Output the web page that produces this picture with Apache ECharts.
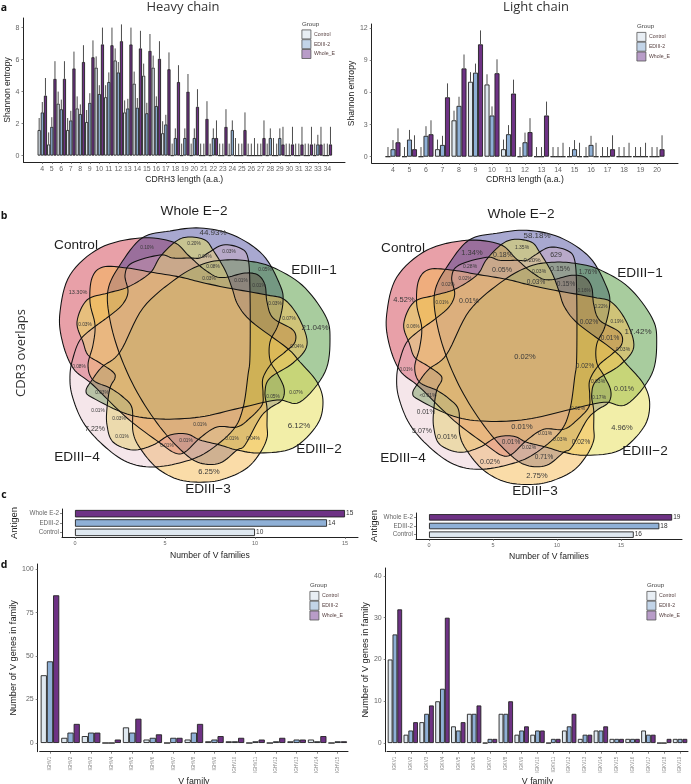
<!DOCTYPE html>
<html>
<head>
<meta charset="utf-8">
<title>CDR3 repertoire</title>
<script src="https://cdn.jsdelivr.net/npm/echarts@6/dist/echarts.min.js"></script>
<style>
html,body{margin:0;padding:0;background:#fff}
#chart{width:691px;height:784px}
</style>
</head>
<body>
<div id="chart"></div>
<script>
// ---- data ----
var groups = ['Control', 'EDIII-2', 'Whole_E'];

var heavyLengths = [4,5,6,7,8,9,10,11,12,13,14,15,16,17,18,19,20,21,22,23,24,25,26,27,28,29,30,31,32,33,34];
var heavyControl = [1.6,0.7,3.25,1.6,2.95,2.1,5.5,3.65,5.95,2.7,4.5,5.0,5.5,1.4,0,0,0,0,0,0,0,0,0,0,0,0,0,0,0,0,0];
var heavyEdiii = [2.7,1.8,2.9,2.2,2.6,3.3,3.85,4.6,5.2,2.95,3.0,2.65,3.1,1.95,1.1,1.1,1.1,0,1.1,0,1.6,0,0,0,1.1,1.1,0,0,0,0.7,0];
var heavyWhole = [3.75,4.8,4.8,5.45,5.85,6.15,6.95,6.9,7.15,6.95,6.7,6.55,6.05,5.4,4.6,4.0,3.05,2.3,1.1,1.8,0,1.6,0,1.1,0,0.7,0.7,0.7,0.7,0.7,0.7];
var heavyControlTop = [2.35,1.45,4.0,2.35,3.7,2.85,6.2,4.4,6.7,3.45,5.25,5.75,6.25,2.15,0.75,0.75,0.75,0.75,0.75,0.75,0.75,0.75,0.75,0.75,0.75,0.75,0.75,0.75,0.75,0.75,0.75];
var heavyEdiiiTop = [3.35,2.4,3.5,2.8,3.2,3.9,4.4,5.2,5.85,3.55,3.6,3.3,3.7,2.55,1.7,1.7,1.7,0.75,1.7,0.75,2.2,0.75,0.75,0.75,1.7,1.7,0.75,0.75,0.75,1.3,0.75];
var heavyWholeTop = [4.85,5.9,5.9,6.5,6.9,7.2,8.0,8.0,8.2,8.0,7.8,7.6,7.15,6.45,5.65,5.1,4.15,3.4,2.2,2.9,1.1,2.7,1.1,2.2,1.1,1.8,1.8,1.8,1.8,1.8,1.8];

var lightLengths = [4,5,6,7,8,9,10,11,12,13,14,15,16,17,18,19,20];
var lightControl = [0,0,0,0.7,3.4,7.0,6.75,0.7,0,0,0,0,0,0,0,0,0];
var lightEdiii = [0.7,1.6,1.95,1.1,4.75,7.85,3.85,2.1,1.35,0,0,0.7,1.1,0,0,0,0];
var lightWhole = [1.35,0.7,2.1,5.55,8.25,10.5,7.8,5.9,2.3,3.85,0,0,0,0.7,0,0,0.7];
var lightControlTop = [0.9,0.9,0.9,1.6,4.3,7.9,7.7,1.6,0.9,0.9,0.9,0.9,0.9,0.9,0.9,0.9,0.9];
var lightEdiiiTop = [1.55,2.5,2.85,1.95,5.6,8.7,4.7,2.95,2.25,0.9,0.9,1.55,1.95,0.9,0.9,0.9,0.9];
var lightWholeTop = [2.65,2.0,3.4,6.85,9.55,11.8,9.1,7.2,3.6,5.15,1.3,1.3,1.3,2.0,1.3,1.3,2.0];

var antigens = ['Control', 'EDIII-2', 'Whole E-2'];
var heavyFamilies = [10, 14, 15];
var lightFamilies = [16, 18, 19];

var ighv = ['IGHV1','IGHV2','IGHV3','IGHV4','IGHV5','IGHV6','IGHV7','IGHV8','IGHV9','IGHV10','IGHV11','IGHV12','IGHV13','IGHV14','IGHV15'];
var ighvControl = [39,3,4,0,9,2,0,2,1,1,0,0,1,2,0];
var ighvEdiii = [47,6,6,0,6,3,3,6,2,1,1,1,2,1,1];
var ighvWhole = [85,11,6,2,14,5,3,11,4,3,2,3,2,4,1];

var igkv = ['IGKV1','IGKV2','IGKV3','IGKV4','IGKV5','IGKV6','IGKV7','IGKV8','IGKV9','IGKV10','IGKV11','IGKV12','IGKV13','IGKV14','IGKV15','IGKV16','IGKV17','IGKV18','IGKV19'];
var igkvControl = [20,2,5,10,4,7,0,7,2,2,0,3,1,3,1,1,3,0,1];
var igkvEdiii = [26,3,7,13,3,7,1,7,3,3,1,4,2,3,1,1,2,0,1];
var igkvWhole = [32,5,9,30,5,9,1,10,4,3,1,7,2,4,1,1,2,1,1];

var vennSets = ['Control', 'Whole E\u22122', 'EDIII\u22121', 'EDIII\u22122', 'EDIII\u22123', 'EDIII\u22124'];
var heavyOverlaps = ['44.93%','13.30%','21.04%','6.12%','6.25%','7.22%','0.10%','0.20%','0.03%','0.04%','0.08%','0.03%','0.01%','0.05%','0.01%','0.03%','0.07%','0.04%','0.03%','0.08%','0.03%','0.01%','0.03%','0.01%','0.01%','0.01%','0.01%','0.01%','0.04%','0.05%','0.07%'];
var lightOverlaps = ['58.18%','1.35%','629','1.34%','0.18%','0.20%','0.28%','0.05%','0.15%','0.03%','1.76%','0.03%','0.15%','0.02%','0.02%','0.16%','4.52%','0.01%','0.01%','0.22%','0.19%','0.02%','17.42%','0.06%','0.01%','0.03%','0.02%','0.02%','0.01%','0.03%','0.01%','<0.01%','0.17%','0.02%','0.01%','4.96%','5.07%','0.01%','0.01%','0.01%','0.03%','0.02%','0.01%','0.02%','0.71%','0.02%','2.75%'];

// ---- colours ----
var barColors = ['#dfe8f0', '#8fb0d6', '#6e3285'];
var swatchColors = ['#e8eef4', '#c2d4e8', '#b89cc8'];
var vennFills = ['rgba(204,44,62,.45)','rgba(38,38,138,.4)','rgba(38,127,13,.4)','rgba(229,221,81,.5)','rgba(245,185,81,.5)','rgba(222,172,185,.3)'];

// venn outlines, left panel pixels, same order as vennSets
var vennOutlines = [
  [[173,242],[188,255],[200,266],[208,272],[217,277],[228,277],[245,273],[258,275],[265,285],[267,302],[273,318],[293,330],[295,342],[285,352],[272,363],[263,378],[263,393],[262,405],[250,418],[237,427],[217,427],[200,438],[185,452],[175,453],[160,443],[127,418],[93,385],[73,368],[62,340],[60,312],[70,275],[100,248],[140,238]],
  [[200,228],[233,235],[263,255],[280,285],[283,302],[278,325],[270,342],[270,360],[277,373],[284,388],[282,400],[270,408],[260,418],[245,445],[237,450],[220,463],[200,463],[183,452],[160,427],[137,392],[120,355],[110,320],[108,290],[120,265],[142,238],[170,231]],
  [[203,264],[225,260],[248,261],[272,267],[302,285],[325,315],[330,338],[325,372],[300,402],[277,400],[240,408],[200,417],[160,419],[127,414],[93,398],[86,391],[92,380],[102,367],[120,352],[143,308],[177,278]],
  [[175,242],[188,237],[205,240],[213,250],[225,270],[232,288],[238,305],[252,322],[287,348],[300,362],[317,382],[323,402],[317,425],[293,448],[260,453],[237,450],[220,445],[200,440],[187,434],[170,435],[153,445],[133,450],[113,442],[107,425],[107,408],[110,388],[115,378],[113,372],[100,363],[88,355],[83,342],[77,322],[87,300],[108,293],[128,287],[150,273],[160,257]],
  [[267,295],[285,300],[300,320],[307,345],[293,363],[270,378],[265,392],[267,408],[267,425],[267,438],[260,453],[247,468],[227,478],[207,482],[180,480],[157,468],[140,448],[133,432],[132,408],[123,397],[110,388],[93,380],[88,365],[93,345],[95,325],[90,302],[92,278],[103,267],[127,268],[150,272],[180,277],[200,282],[228,288]],
  [[72,395],[83,422],[103,445],[127,462],[153,467],[183,462],[207,452],[233,430],[243,408],[248,375],[250,355],[250,292],[248,258],[240,248],[223,245],[208,253],[200,258],[190,258],[173,258],[160,255],[132,263],[125,275],[128,292],[122,305],[108,317],[93,328],[80,340],[73,358],[70,375]]
];

var leftSetSpots = [[76,245],[194,211],[314,270],[319,449],[208,489],[77,457]];
var rightSetSpots = [[403,248],[521,214],[640,273],[645,451],[535,491],[403,458]];

// x, y, size in page pixels, same order as heavyOverlaps / lightOverlaps
var leftLabelSpots = [[213,233,8],[78,292,5.5],[315,328,8],[299,426,8],[209,472,7.5],[95,429,7],[147,248,4.8],[194,244,4.8],[229,252,4.8],[205,257,4.8],[213,267,4.8],[209,279,4.8],[241,281,4.8],[265,270,4.8],[259,286,4.8],[275,304,4.8],[289,319,4.8],[297,347,4.8],[85,325,4.8],[79,367,4.8],[102,393,4.8],[98,411,4.8],[119,419,4.8],[122,437,4.8],[167,446,4.8],[186,441,4.8],[200,425,4.8],[232,439,4.8],[253,439,4.8],[273,397,4.8],[296,393,4.8]];
var rightLabelSpots = [[192,236,8],[177,248,5],[211,255,7],[127,253,7.5],[158,255,7],[187,260,6],[125,267,5],[157,270,7],[215,269,7],[194,272,5],[243,272,6.5],[191,282,6.5],[221,284,6.5],[103,285,4.5],[120,279,4.5],[239,291,4.5],[59,300,7.5],[124,301,7],[97,303,4.5],[256,307,4.5],[272,322,4.5],[244,322,6.5],[293,332,8],[68,327,4.5],[265,338,6.5],[278,350,5],[180,357,7.5],[240,366,6.5],[61,370,4.5],[253,382,5],[279,389,7],[83,396,5],[254,398,5],[233,409,5],[81,412,6.5],[277,428,7.5],[77,431,7],[177,427,7.5],[102,437,7],[200,434,5],[215,440,5],[236,442,6.5],[166,442,6.5],[184,448,5],[199,457,6.5],[145,462,7],[192,476,7.5]];
rightLabelSpots.forEach(function (p) { p[0] += 345; });

// ---- helpers ----
function curvePoints(pts) {
  // closed catmull-rom through the traced points, sampled for a polygon
  var n = pts.length, out = [];
  for (var i = 0; i < n; i++) {
    var p0 = pts[(i - 1 + n) % n], p1 = pts[i], p2 = pts[(i + 1) % n], p3 = pts[(i + 2) % n];
    for (var s = 0; s < 8; s++) {
      var t = s / 8, t2 = t * t, t3 = t2 * t;
      out.push([0, 1].map(function (k) {
        return 0.5 * (2 * p1[k] + (p2[k] - p0[k]) * t + (2 * p0[k] - 5 * p1[k] + 4 * p2[k] - p3[k]) * t2 + (3 * p1[k] - p0[k] - 3 * p2[k] + p3[k]) * t3);
      }));
    }
  }
  return out;
}

function zip(xs, ys) {
  return xs.map(function (x, i) { return [x, ys[i]]; });
}

var grids = [], xAxes = [], yAxes = [], series = [], legends = [], graphics = [];
var SANS = '"Liberation Sans", Arial, sans-serif';
var TITLE = '"Open Sans", "Noto Sans", sans-serif';

function text(str, x, y, size, extra) {
  var el = {
    type: 'text', x: x, y: y, silent: true,
    style: { text: str, fontSize: size, fontFamily: SANS, fill: '#222', align: 'center', verticalAlign: 'middle' }
  };
  if (extra) { for (var k in extra) { el.style[k] = extra[k]; } }
  return el;
}

function addLegend(x, y) {
  graphics.push(text('Group', x, y - 5.5, 6.2, { align: 'left', fill: '#444' }));
  legends.push({
    left: x - 0.5, top: y, orient: 'vertical', itemWidth: 9, itemHeight: 9, itemGap: 0, padding: 0,
    selectedMode: false, icon: 'rect',
    textStyle: { fontSize: 5.2, color: '#5a4444', fontFamily: SANS, padding: [0, 0, 0, -2] },
    data: groups.map(function (g, i) {
      return { name: g, itemStyle: { color: swatchColors[i], borderColor: '#555', borderWidth: 0.8 } };
    })
  });
}

// axis pair; left/top/right/bottom are the page pixels of the axis lines
function addAxes(box, xa, ya) {
  var idx = grids.length;
  grids.push({ left: box.left, top: box.top, width: box.right - box.left, height: box.bottom - box.top, containLabel: false, outerBoundsMode: 'none' });
  var axisLine = { show: true, onZero: false, lineStyle: { color: '#222', width: 1 } };
  var tick = { show: true, length: 2, lineStyle: { color: '#555', width: 0.7 } };
  xa.gridIndex = idx; xa.axisLine = axisLine; xa.splitLine = { show: false };
  ya.gridIndex = idx; ya.axisLine = axisLine; ya.splitLine = { show: false };
  xa.axisTick = Object.assign({}, tick, xa.axisTick || {});
  ya.axisTick = Object.assign({}, tick, ya.axisTick || {});
  xa.nameLocation = 'middle'; ya.nameLocation = 'middle';
  xa.nameTextStyle = { color: '#222', fontFamily: SANS, fontSize: 8.6 };
  ya.nameTextStyle = { color: '#222', fontFamily: SANS, fontSize: 8.6 };
  xAxes.push(xa); yAxes.push(ya);
  return idx;
}

function labelStyle(size, margin, extra) {
  return Object.assign({ color: '#666', fontSize: size, fontFamily: SANS, margin: margin, hideOverlap: false }, extra || {});
}

// panel a: bars on a numeric length axis, with upper error lines
function entropyPanel(box, lengths, sets, tops, barW, xMin, xMax, yMin, yMax, yTicks, nameGapX, nameGapY) {
  var idx = addAxes(box, {
    type: 'value', min: xMin, max: xMax, name: 'CDRH3 length (a.a.)', nameGap: nameGapX,
    axisLabel: labelStyle(7, 4, { customValues: lengths }), axisTick: { customValues: lengths }
  }, {
    type: 'value', min: yMin, max: yMax, name: 'Shannon entropy', nameGap: nameGapY,
    axisLabel: labelStyle(7, 4, { customValues: yTicks }), axisTick: { customValues: yTicks }
  });
  sets.forEach(function (vals, g) {
    series.push({
      type: 'bar', name: groups[g], xAxisIndex: idx, yAxisIndex: idx, barWidth: barW, barGap: '0%',
      itemStyle: { color: barColors[g], borderColor: '#222', borderWidth: 0.9 },
      data: zip(lengths, vals), silent: true, z: 2
    });
  });
  sets.forEach(function (vals, g) {
    var off = (g - 1) * barW;
    series.push({
      type: 'custom', xAxisIndex: idx, yAxisIndex: idx, clip: false, silent: true, z: 3,
      encode: { x: 0, y: 2 },
      data: lengths.map(function (x, i) { return [x, vals[i], tops[g][i]]; }),
      renderItem: function (params, api) {
        var a = api.coord([api.value(0), api.value(1)]);
        var b = api.coord([api.value(0), api.value(2)]);
        return {
          type: 'line', shape: { x1: a[0] + off, y1: a[1], x2: a[0] + off, y2: b[1] },
          style: { stroke: '#4d4d4d', lineWidth: 1 }
        };
      }
    });
  });
}

// panel c: one horizontal bar per antigen
function familiesPanel(box, values, xMin, xMax, barH, nameGapX, nameGapY) {
  var ticks = [0, 5, 10, 15];
  var idx = addAxes(box, {
    type: 'value', min: xMin, max: xMax, name: 'Number of V families', nameGap: nameGapX,
    axisLabel: labelStyle(5.5, 3, { customValues: ticks }), axisTick: { customValues: ticks }
  }, {
    type: 'category', data: antigens, name: 'Antigen', nameGap: nameGapY,
    axisLabel: labelStyle(6.3, 3), axisTick: { alignWithLabel: true, interval: 0 }
  });
  yAxes[idx].nameTextStyle.fontSize = 9.5;
  series.push({
    type: 'bar', xAxisIndex: idx, yAxisIndex: idx, barWidth: barH, silent: true,
    itemStyle: { borderColor: '#222', borderWidth: 0.9 },
    label: { show: true, position: 'right', distance: 1, fontSize: 6.5, fontFamily: SANS, color: '#333' },
    data: values.map(function (v, i) { return { value: v, itemStyle: { color: barColors[i] } }; })
  });
}

// panel d: grouped counts per V family
function genesPanel(box, axisLeft, cats, sets, barW, yMin, yMax, yTicks, nameGapY) {
  var idx = addAxes(box, {
    type: 'category', data: cats, name: 'V family', nameGap: 24,
    axisLabel: labelStyle(4.6, 5, { rotate: 90, interval: 0, color: '#888' }), axisTick: { alignWithLabel: true, interval: 0 }
  }, {
    type: 'value', min: yMin, max: yMax, name: 'Number of V genes in family', nameGap: nameGapY, offset: axisLeft,
    axisLabel: labelStyle(7, 4, { customValues: yTicks }), axisTick: { customValues: yTicks }
  });
  xAxes[idx].nameTextStyle.fontSize = 8.8;
  yAxes[idx].nameTextStyle.fontSize = 9.2;
  sets.forEach(function (vals, g) {
    series.push({
      type: 'bar', name: groups[g], xAxisIndex: idx, yAxisIndex: idx, barWidth: barW, barGap: '0%',
      itemStyle: { color: barColors[g], borderColor: '#222', borderWidth: 0.9 },
      data: vals, silent: true
    });
  });
}

function vennPanel(dx, dy, setSpots, labels, spots) {
  // fills first, then every outline on top so no black line gets tinted
  vennOutlines.forEach(function (pts, i) {
    graphics.push({
      type: 'polygon', x: dx, y: dy, silent: true,
      shape: { points: curvePoints(pts) },
      style: { fill: vennFills[i] }
    });
  });
  vennOutlines.forEach(function (pts) {
    graphics.push({
      type: 'polygon', x: dx, y: dy, silent: true,
      shape: { points: curvePoints(pts) },
      style: { fill: 'none', stroke: '#111', lineWidth: 1.05 }
    });
  });
  vennSets.forEach(function (s, i) {
    graphics.push(text(s, setSpots[i][0], setSpots[i][1], 13.6, { fill: '#1f1f1f' }));
  });
  labels.forEach(function (t, i) {
    graphics.push(text(t, spots[i][0], spots[i][1], spots[i][2], { fill: '#3a3a3a' }));
  });
}

// ---- panels ----
entropyPanel({ left: 23.5, right: 345, top: 18, bottom: 162 }, heavyLengths,
  [heavyControl, heavyEdiii, heavyWhole], [heavyControlTop, heavyEdiiiTop, heavyWholeTop],
  3.15, 2.02, 35.86, -0.4, 8.6, [0, 2, 4, 6, 8], 13, 11);
entropyPanel({ left: 371.7, right: 678, top: 24, bottom: 163 }, lightLengths,
  [lightControl, lightEdiii, lightWhole], [lightControlTop, lightEdiiiTop, lightWholeTop],
  5, 2.71, 21.27, -0.59, 12.4, [0, 3, 6, 9, 12], 12, 13);

familiesPanel({ left: 62, right: 358, top: 509, bottom: 537 }, heavyFamilies, -0.72, 15.72, 7.5, 14, 43);
familiesPanel({ left: 416, right: 682, top: 513, bottom: 539 }, lightFamilies, -1.016, 19.77, 6.5, 13, 37);

genesPanel({ left: 39.7, right: 348, top: 564, bottom: 751.7 }, 2, ighv,
  [ighvControl, ighvEdiii, ighvWhole], 6.2, -5, 103, [0, 25, 50, 75, 100], 16);
genesPanel({ left: 387, right: 688, top: 568, bottom: 751.7 }, 1.3, igkv,
  [igkvControl, igkvEdiii, igkvWhole], 4.8, -2.07, 41.9, [0, 10, 20, 30, 40], 12);

addLegend(302, 29.5);
addLegend(637, 32);
addLegend(310, 591);
addLegend(647, 591);

vennPanel(0, 0, leftSetSpots, heavyOverlaps, leftLabelSpots);
vennPanel(326.7, 2.3, rightSetSpots, lightOverlaps, rightLabelSpots);

graphics.push(text('Heavy chain', 183, 7, 13, { fontFamily: TITLE, fill: '#333' }));
graphics.push(text('Light chain', 536, 7, 13, { fontFamily: TITLE, fill: '#333' }));
var sideLabel = text('CDR3 overlaps', 21, 353, 13, { fontFamily: TITLE, fill: '#333' });
sideLabel.rotation = Math.PI / 2;
graphics.push(sideLabel);
['a', 'b', 'c', 'd'].forEach(function (l, i) {
  var y = [8, 216, 495, 565][i];
  graphics.push(text(l, 4, y, 10.5, { fontFamily: TITLE, fontWeight: 'bold', fill: '#111' }));
});

var myChart = echarts.init(document.getElementById('chart'));
myChart.setOption({
  animation: false,
  backgroundColor: '#fff',
  grid: grids,
  xAxis: xAxes,
  yAxis: yAxes,
  legend: legends,
  series: series,
  graphic: { elements: graphics }
});
</script>
</body>
</html>
